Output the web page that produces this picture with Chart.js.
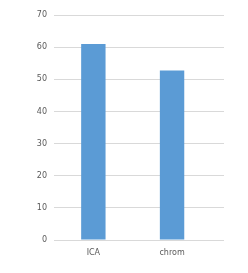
<!DOCTYPE html>
<html>
<head>
<meta charset="utf-8">
<script src="https://cdn.jsdelivr.net/npm/chart.js@4"></script>
<style>
    html, body { margin: 0; padding: 0; background: #fff; }
    #box { width: 248px; height: 273px; }
</style>
</head>
<body>
<div id="box"><canvas id="chart-barras" width="248" height="273"></canvas></div>
<script>
const CATEGORIAS = ['ICA', 'chrom'];
const VALORES = [61, 52.7];
const TICKS_Y = [0, 10, 20, 30, 40, 50, 60, 70];

const ctx = document.getElementById('chart-barras');

// eixo x linear para que as linhas de grade passem um pouco além da última barra
new Chart(ctx, {
    type: 'bar',
    data: {
        datasets: [{
            data: VALORES.map((v, i) => ({ x: i, y: v })),
            backgroundColor: '#5b9bd5',
            borderWidth: 0,
            categoryPercentage: 1,
            barPercentage: 0.31
        }]
    },
    options: {
        responsive: false,
        animation: false,
        layout: { padding: { top: 15, right: 24, bottom: 0, left: 0 } },
        plugins: {
            legend: { display: false },
            tooltip: { enabled: false }
        },
        scales: {
            x: {
                type: 'linear',
                offset: false,
                min: -0.5,
                max: 1.66,
                afterBuildTicks: (scale) => { scale.ticks = CATEGORIAS.map((_, i) => ({ value: i })); },
                grid: { display: false, drawTicks: false },
                border: { display: false },
                ticks: {
                    color: '#595959',
                    font: { family: 'DejaVu Sans', size: 8 },
                    padding: 8,
                    callback: (v) => CATEGORIAS[v]
                },
                afterFit: (scale) => { scale.height = 33; }
            },
            y: {
                min: 0,
                max: 70,
                afterBuildTicks: (scale) => { scale.ticks = TICKS_Y.map(v => ({ value: v })); },
                grid: { color: '#d9d9d9', drawTicks: false },
                border: { display: false },
                ticks: {
                    color: '#595959',
                    font: { family: 'DejaVu Sans', size: 8 },
                    padding: 7
                },
                afterFit: (scale) => { scale.width = 54; }
            }
        }
    }
});
</script>
</body>
</html>
